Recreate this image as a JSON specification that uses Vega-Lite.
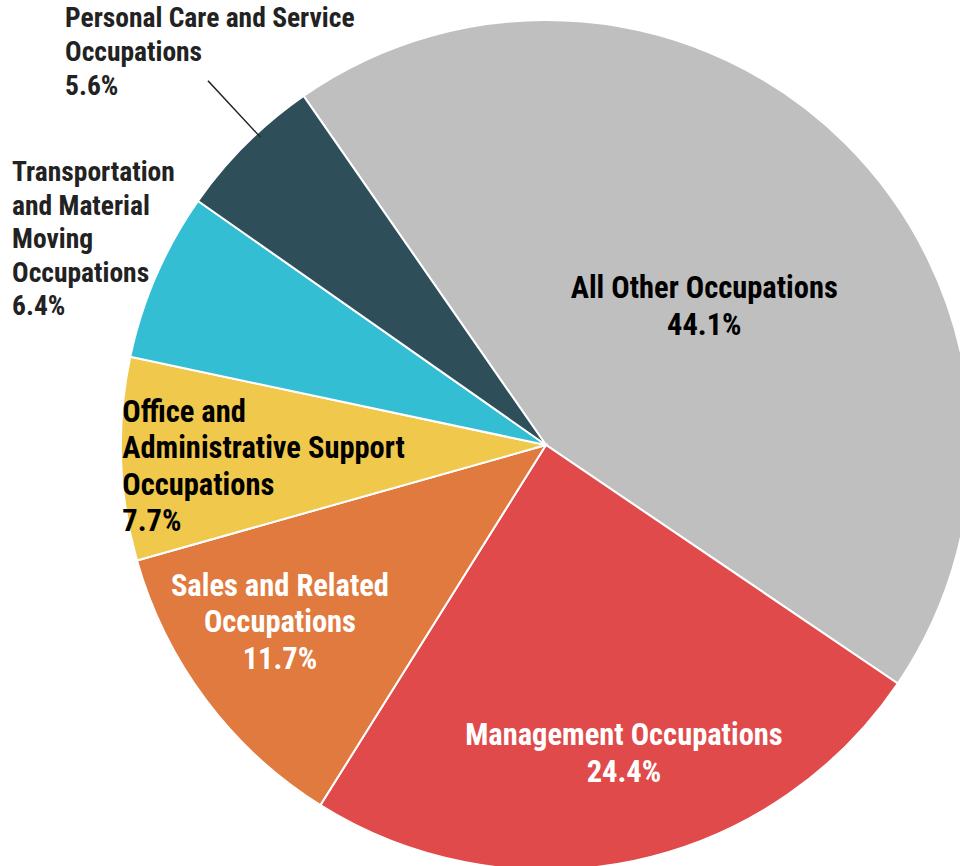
{
  "$schema": "https://vega.github.io/schema/vega-lite/v6.json",
  "width": 828,
  "height": 842,
  "autosize": {"type": "none"},
  "padding": {"left": 132, "top": 24, "right": 0, "bottom": 0},
  "background": "white",
  "config": {
    "view": {"stroke": null},
    "text": {"font": "Roboto Condensed, Noto Sans Condensed, Liberation Sans Narrow, DejaVu Sans Condensed, sans-serif", "fontWeight": "bold", "lineBreak": "\n"}
  },
  "data": {
    "values": [
      {"category": "All Other Occupations", "value": 44.1, "order": 1, "label": "All Other Occupations\n44.1%"},
      {"category": "Management Occupations", "value": 24.4, "order": 2, "label": "Management Occupations\n24.4%"},
      {"category": "Sales and Related Occupations", "value": 11.7, "order": 3, "label": "Sales and Related\nOccupations\n11.7%"},
      {"category": "Office and Administrative Support Occupations", "value": 7.7, "order": 4, "label": "Office and\nAdministrative Support\nOccupations\n7.7%"},
      {"category": "Transportation and Material Moving Occupations", "value": 6.4, "order": 5, "label": "Transportation\nand Material\nMoving\nOccupations\n6.4%"},
      {"category": "Personal Care and Service Occupations", "value": 5.6, "order": 6, "label": "Personal Care and Service\nOccupations\n5.6%"}
    ]
  },
  "layer": [
    {
      "encoding": {
        "theta": {"field": "value", "type": "quantitative", "stack": true, "scale": {"range": [-0.607, 5.6762]}},
        "order": {"field": "order", "type": "quantitative"}
      },
      "layer": [
        {
          "mark": {"type": "arc", "outerRadius": 425, "stroke": "white", "strokeWidth": 2},
          "encoding": {
            "color": {
              "field": "category", "type": "nominal", "legend": null,
              "scale": {
                "domain": ["All Other Occupations", "Management Occupations", "Sales and Related Occupations", "Office and Administrative Support Occupations", "Transportation and Material Moving Occupations", "Personal Care and Service Occupations"],
                "range": ["#bfbfbf", "#e04a4a", "#e07a3e", "#efc84c", "#34bed4", "#2e4f5a"]
              }
            }
          }
        },
        {
          "mark": {"type": "text", "radius": 208, "dx": 12, "dy": -8, "align": "center", "baseline": "middle", "fontSize": 30.5, "lineHeight": 37},
          "encoding": {
            "detail": {"field": "category", "type": "nominal"},
            "color": {"value": "#000000"},
            "text": {"condition": {"test": "datum.order == 1", "field": "label"}, "value": ""}
          }
        },
        {
          "mark": {"type": "text", "radius": 320, "dx": 12, "dy": -22, "align": "center", "baseline": "middle", "fontSize": 30.5, "lineHeight": 37},
          "encoding": {
            "detail": {"field": "category", "type": "nominal"},
            "color": {"value": "#ffffff"},
            "text": {"condition": {"test": "datum.order == 2", "field": "label"}, "value": ""}
          }
        },
        {
          "mark": {"type": "text", "radius": 320, "dx": -10, "dy": -50, "align": "center", "baseline": "middle", "fontSize": 30.5, "lineHeight": 36.5},
          "encoding": {
            "detail": {"field": "category", "type": "nominal"},
            "color": {"value": "#ffffff"},
            "text": {"condition": {"test": "datum.order == 3", "field": "label"}, "value": ""}
          }
        },
        {
          "mark": {"type": "text", "radius": 423, "dx": -1, "dy": -46, "align": "left", "baseline": "middle", "fontSize": 30.5, "lineHeight": 36.5},
          "encoding": {
            "detail": {"field": "category", "type": "nominal"},
            "color": {"value": "#000000"},
            "text": {"condition": {"test": "datum.order == 4", "field": "label"}, "value": ""}
          }
        },
        {
          "mark": {"type": "text", "radius": 579, "dx": -3, "dy": -41, "align": "left", "baseline": "middle", "fontSize": 27.5, "lineHeight": 33.5},
          "encoding": {
            "detail": {"field": "category", "type": "nominal"},
            "color": {"value": "#222222"},
            "text": {"condition": {"test": "datum.order == 5", "field": "label"}, "value": ""}
          }
        },
        {
          "mark": {"type": "text", "radius": 540, "dx": -100, "dy": -43, "align": "left", "baseline": "middle", "fontSize": 27.5, "lineHeight": 34},
          "encoding": {
            "detail": {"field": "category", "type": "nominal"},
            "color": {"value": "#222222"},
            "text": {"condition": {"test": "datum.order == 6", "field": "label"}, "value": ""}
          }
        }
      ]
    },
    {
      "transform": [{"filter": "datum.order == 6"}],
      "mark": {"type": "arc", "theta": 5.5336, "theta2": 5.5368, "innerRadius": 420, "outerRadius": 497, "fill": "#222222"},
      "encoding": {}
    }
  ]
}
